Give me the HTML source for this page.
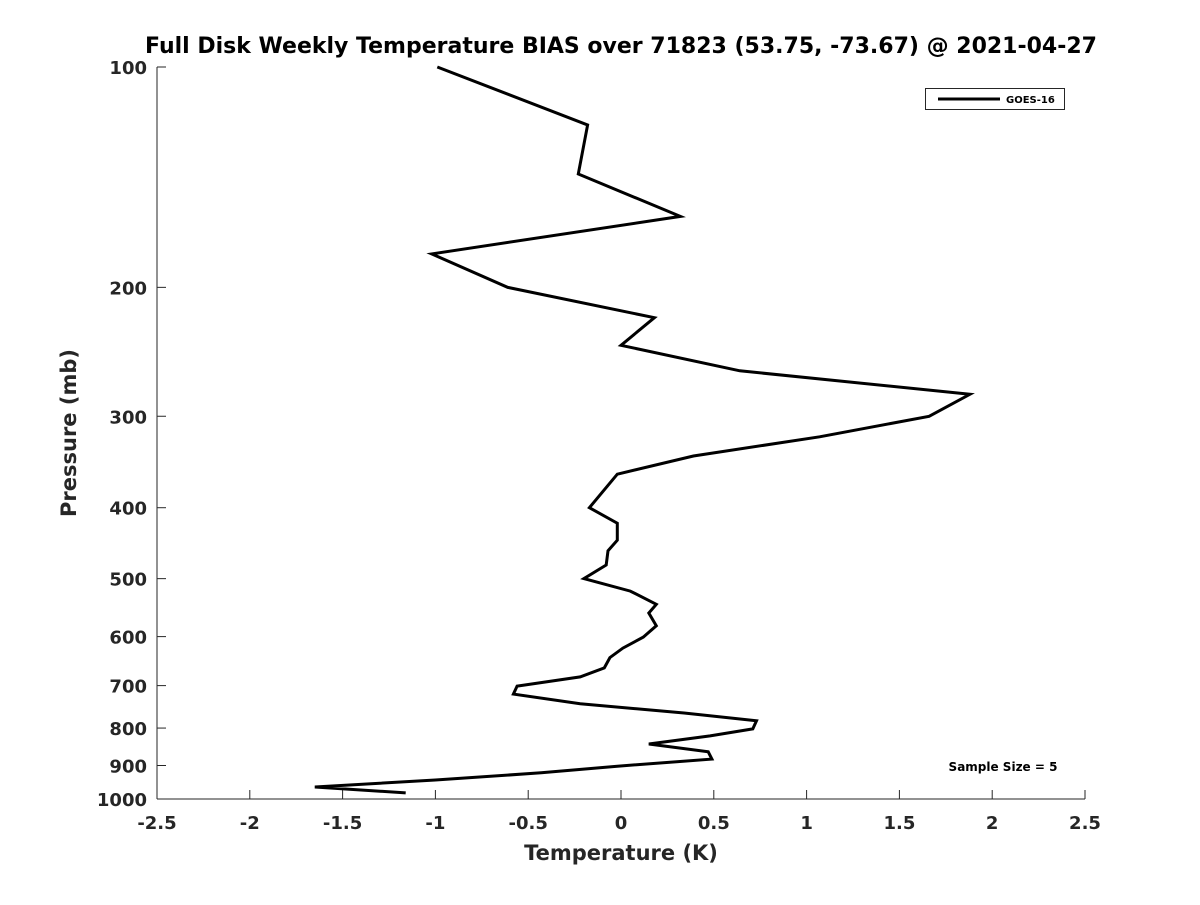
<!DOCTYPE html>
<html><head><meta charset="utf-8"><style>
body{margin:0;background:#fff}
svg text{font-family:"DejaVu Sans","Liberation Sans",sans-serif;font-weight:bold;fill:#262626}
</style></head><body>
<svg id="chart" width="1200" height="900" xmlns="http://www.w3.org/2000/svg">
<rect width="1200" height="900" fill="#fff"/>
<text x="621" y="53" font-size="22" text-anchor="middle" style="fill:#000">Full Disk Weekly Temperature BIAS over 71823 (53.75, -73.67) @ 2021-04-27</text>
<g id="axes"></g>
<g>
<rect x="925.5" y="88.5" width="139" height="21" fill="#fff" stroke="#262626" stroke-width="1"/>
<line x1="938" y1="99" x2="1000" y2="99" stroke="#000" stroke-width="3"/>
<text x="1006" y="103" font-size="10" style="fill:#000">GOES-16</text>
</g>
<text x="1003" y="771" font-size="12" text-anchor="middle" style="fill:#000">Sample Size = 5</text>
<text x="621" y="860" font-size="21" text-anchor="middle">Temperature (K)</text>
<text x="0" y="0" font-size="21" text-anchor="middle" transform="translate(76,433) rotate(-90)">Pressure (mb)</text>
</svg>
<script>
const pressures=[100,120,140,160,180,200,220,240,260,280,300,320,340,360,400,420,443,458,479,500,520,542,557,580,601,622,641,662,681,701,719,741,763,782,802,820,841,862,882,902,921,942,963,981];
const temps=[-0.99,-0.18,-0.23,0.32,-1.02,-0.61,0.18,0.0,0.64,1.88,1.66,1.07,0.39,-0.02,-0.17,-0.02,-0.02,-0.07,-0.08,-0.20,0.05,0.19,0.15,0.19,0.12,0.01,-0.06,-0.09,-0.22,-0.56,-0.58,-0.22,0.34,0.73,0.71,0.48,0.15,0.47,0.49,-0.02,-0.43,-1.00,-1.65,-1.16];
const xTicks=[-2.5,-2,-1.5,-1,-0.5,0,0.5,1,1.5,2,2.5];
const xTickLabels=["-2.5","-2","-1.5","-1","-0.5","0","0.5","1","1.5","2","2.5"];
const yTicks=[100,200,300,400,500,600,700,800,900,1000];
const yTickLabels=["100","200","300","400","500","600","700","800","900","1000"];
const L=157,R=1085,T=67,B=799;
const xs=t=>L+(t+2.5)/5*(R-L);
const ys=p=>T+Math.log10(p/100)*(B-T);
const NS="http://www.w3.org/2000/svg";
const svg=document.getElementById('chart');
const ax=document.getElementById('axes');
function mk(tag,attrs,parent){const e=document.createElementNS(NS,tag);for(const k in attrs)e.setAttribute(k,attrs[k]);(parent||ax).appendChild(e);return e;}
let a=mk('line',{x1:L,y1:T,x2:L,y2:B,stroke:'#262626','stroke-width':1});


a=mk('line',{x1:L,y1:B,x2:R,y2:B,stroke:'#262626','stroke-width':1});


xTicks.forEach((v,i)=>{const x=xs(v);
 const t=mk('line',{x1:x,y1:B,x2:x,y2:B-9,stroke:'#262626'});
 
 
 const l=mk('text',{x:x,y:B+30,'font-size':18,'text-anchor':'middle'});l.textContent=xTickLabels[i];
 
 });
yTicks.forEach((v,i)=>{const y=ys(v);
 const t=mk('line',{x1:L,y1:y,x2:L+9,y2:y,stroke:'#262626'});
 
 
 const l=mk('text',{x:L-10,y:y+7,'font-size':18,'text-anchor':'end'});l.textContent=yTickLabels[i];
 
 });
const pts=temps.map((t,i)=>xs(t).toFixed(1)+','+ys(pressures[i]).toFixed(1)).join(' ');
const line=mk('polyline',{points:pts,fill:'none',stroke:'#000','stroke-width':3,'stroke-linejoin':'miter'});


</script>
</body></html>
